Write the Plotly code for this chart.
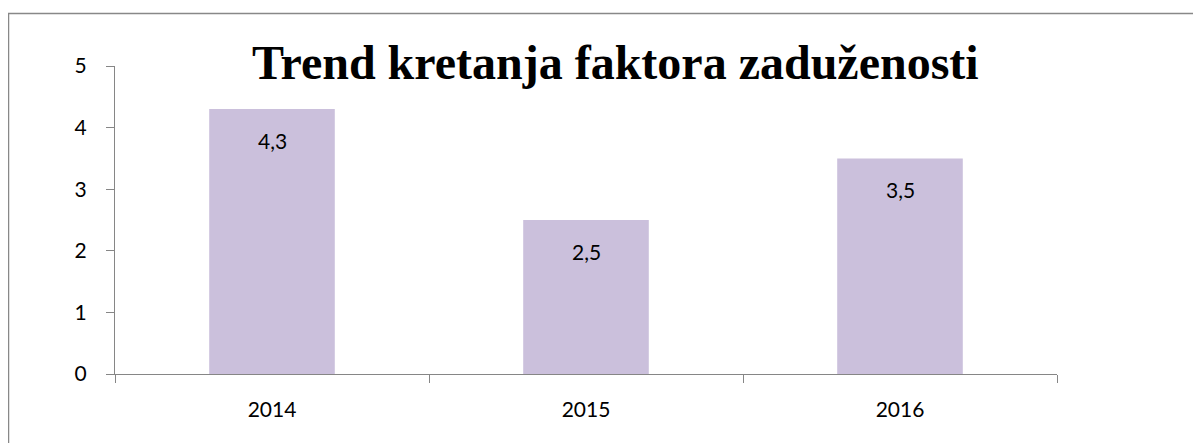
import plotly.graph_objects as go

categories = ["2014", "2015", "2016"]
values = [4.3, 2.5, 3.5]
labels = ["4,3", "2,5", "3,5"]
title_text = "Trend kretanja faktora zaduženosti"

W, H = 1201, 443
OFF = 8  # page body margin
L, T = 115 - OFF, 66 - OFF
R = W - (1057 - OFF)
B = H - (374 - OFF)
pw, ph = W - L - R, H - T - B

fig = go.Figure()
fig.add_trace(go.Bar(x=categories, y=values, marker=dict(color="#CBC0DC", line=dict(width=0)),
                     hoverinfo="skip"))

for i, (v, t) in enumerate(zip(values, labels)):
    fig.add_annotation(x=i, y=v, xref="x", yref="y", text=t, showarrow=False, yshift=-31,
                       font=dict(family="Lato, Open Sans, sans-serif", size=21, color="#000000"))

fig.add_annotation(xref="paper", yref="paper", x=(615 - OFF - L) / pw, y=(374 - 63) / ph,
                   text="<b>" + title_text + "</b>", showarrow=False, xanchor="center", yanchor="middle",
                   font=dict(family="Liberation Serif, Times New Roman, serif", size=48, color="#000000"))

# outer border
fig.add_shape(type="rect", xref="paper", yref="paper",
              x0=(8.5 - OFF - L) / pw, x1=(W + 20 - L) / pw,
              y0=-(H + 20) / ph, y1=(374 - 13.5) / ph,
              line=dict(color="#888888", width=1.5), layer="below")

fig.update_layout(
    width=W, height=H,
    margin=dict(l=L, r=R, t=T, b=B),
    paper_bgcolor="white", plot_bgcolor="white",
    bargap=0.6, showlegend=False,
    font=dict(family="Lato, Open Sans, sans-serif", size=21, color="#000000"),
)
fig.update_xaxes(type="category", range=[-0.5, 2.5], showline=True, linecolor="#868686", linewidth=1.3,
                 ticks="outside", tickson="boundaries", ticklen=8, tickcolor="#868686", showgrid=False,
                 ticklabelstandoff=17, tickfont=dict(size=21), tickangle=0)
fig.update_yaxes(range=[0, 5], dtick=1, showline=True, linecolor="#868686", linewidth=1.3,
                 ticks="outside", ticklen=8, tickcolor="#868686", showgrid=False, zeroline=False,
                 ticklabelstandoff=15, tickfont=dict(size=21))

fig.write_html("out.html")
